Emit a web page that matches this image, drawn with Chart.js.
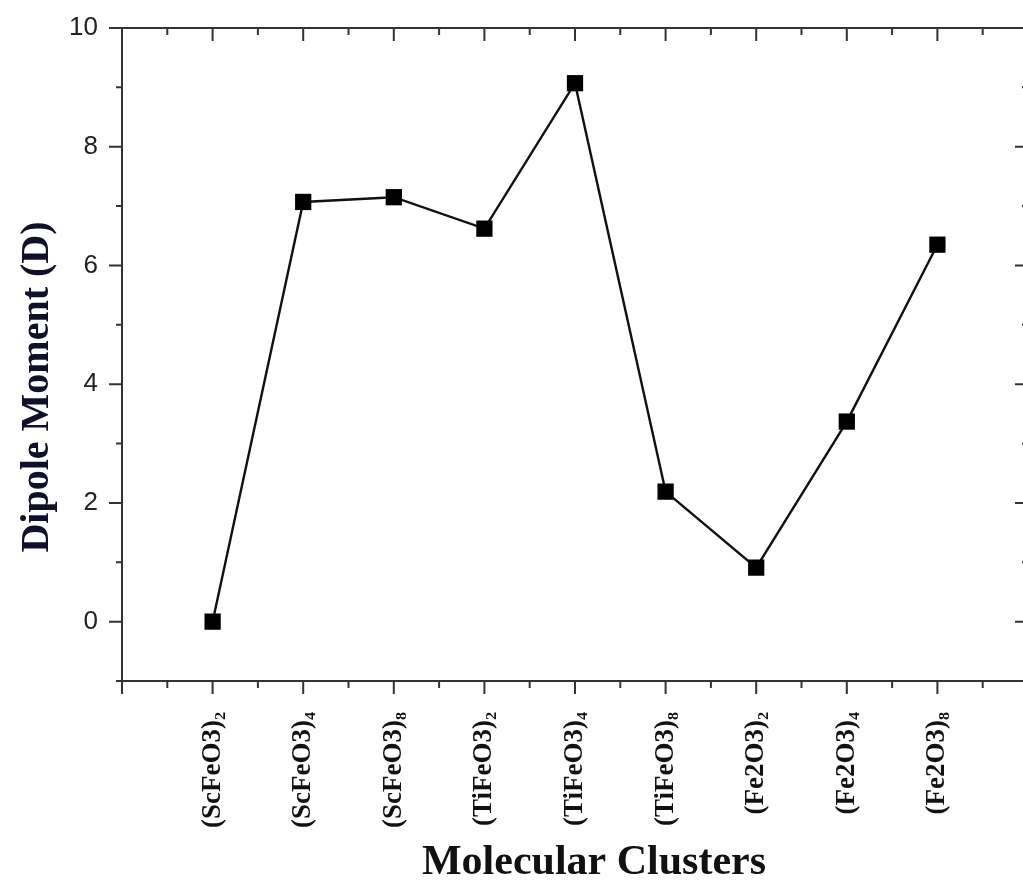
<!DOCTYPE html>
<html>
<head>
<meta charset="utf-8">
<script src="https://cdn.jsdelivr.net/npm/chart.js@4.4.0/dist/chart.umd.min.js"></script>
<style>
  html, body { margin: 0; padding: 0; background: #fff; overflow: hidden; }
  #wrap { width: 1023px; height: 885px; overflow: hidden; }
</style>
</head>
<body>
<div id="wrap"><canvas id="chart" width="1045" height="885"></canvas></div>
<script>
const clusters = ["(ScFeO3)₂", "(ScFeO3)₄", "(ScFeO3)₈", "(TiFeO3)₂", "(TiFeO3)₄", "(TiFeO3)₈", "(Fe2O3)₂", "(Fe2O3)₄", "(Fe2O3)₈"];
const dipole = [0.0, 7.07, 7.15, 6.62, 9.07, 2.19, 0.91, 3.37, 6.35];
const yTicks = [0, 2, 4, 6, 8, 10];

const axisColor = "#333";

// frame + major/minor ticks like the original Origin plot
const framePlugin = {
  id: "frame",
  afterDraw(chart) {
    const ctx = chart.ctx;
    const xs = chart.scales.x, ys = chart.scales.y;
    const a = chart.chartArea;
    ctx.save();
    ctx.strokeStyle = axisColor;
    ctx.lineWidth = 2;
    ctx.strokeRect(a.left, a.top, a.right - a.left, a.bottom - a.top);
    ctx.beginPath();
    for (let v = 0; v <= 10; v += 0.5) {
      const px = xs.getPixelForValue(v);
      const len = Number.isInteger(v) ? 13 : 7;
      ctx.moveTo(px, a.bottom); ctx.lineTo(px, a.bottom + len);
      ctx.moveTo(px, a.top); ctx.lineTo(px, a.top + len);
    }
    for (let v = -1; v <= 10; v += 1) {
      const py = ys.getPixelForValue(v);
      const len = v % 2 === 0 ? 13 : 6;
      ctx.moveTo(a.left, py); ctx.lineTo(a.left - len, py);
      ctx.moveTo(a.right, py); ctx.lineTo(a.right - len, py);
    }
    ctx.stroke();

    // axis titles
    ctx.fillStyle = "#10102a";
    ctx.textAlign = "center";
    ctx.textBaseline = "middle";
    ctx.font = 'bold 40px "Liberation Serif", "Times New Roman", serif';
    ctx.save();
    ctx.translate(38, 387);
    ctx.rotate(-Math.PI / 2);
    ctx.fillText("Dipole Moment (D)", 0, 0);
    ctx.restore();
    ctx.fillStyle = "#111";
    ctx.font = 'bold 42px "Liberation Serif", "Times New Roman", serif';
    ctx.fillText("Molecular Clusters", 594, 863);
    ctx.restore();
  }
};

new Chart(document.getElementById("chart"), {
  type: "line",
  data: {
    datasets: [{
      data: dipole.map((v, i) => ({ x: i + 1, y: v })),
      borderColor: "#111",
      borderWidth: 2.4,
      pointStyle: "rect",
      pointRadius: 11.5,
      pointBackgroundColor: "#000",
      pointBorderColor: "#000",
      pointBorderWidth: 0,
      tension: 0
    }]
  },
  options: {
    responsive: false,
    animation: false,
    layout: { padding: { left: 0, right: 17, top: 28, bottom: 0 } },
    plugins: { legend: { display: false }, tooltip: { enabled: false } },
    scales: {
      x: {
        type: "linear",
        min: 0,
        max: 10,
        grid: { display: false },
        border: { display: false },
        afterBuildTicks: s => { s.ticks = clusters.map((c, i) => ({ value: i + 1 })); },
        afterFit: s => { s.height = 885 - 681; s.paddingLeft = 0; s.paddingRight = 0; },
        ticks: {
          autoSkip: false,
          minRotation: 90,
          maxRotation: 90,
          padding: 23,
          color: "#111",
          font: { family: '"Liberation Serif", "Times New Roman", serif', weight: "bold", size: 27 },
          callback: v => clusters[v - 1] || ""
        }
      },
      y: {
        min: -1,
        max: 10,
        grid: { display: false },
        border: { display: false },
        afterBuildTicks: s => { s.ticks = yTicks.map(v => ({ value: v })); },
        afterFit: s => { s.width = 122; s.paddingTop = 0; s.paddingBottom = 0; },
        ticks: {
          padding: 16,
          color: "#222",
          font: { family: '"Liberation Sans", Arial, sans-serif', size: 26 }
        }
      }
    }
  },
  plugins: [framePlugin]
});
</script>
</body>
</html>
